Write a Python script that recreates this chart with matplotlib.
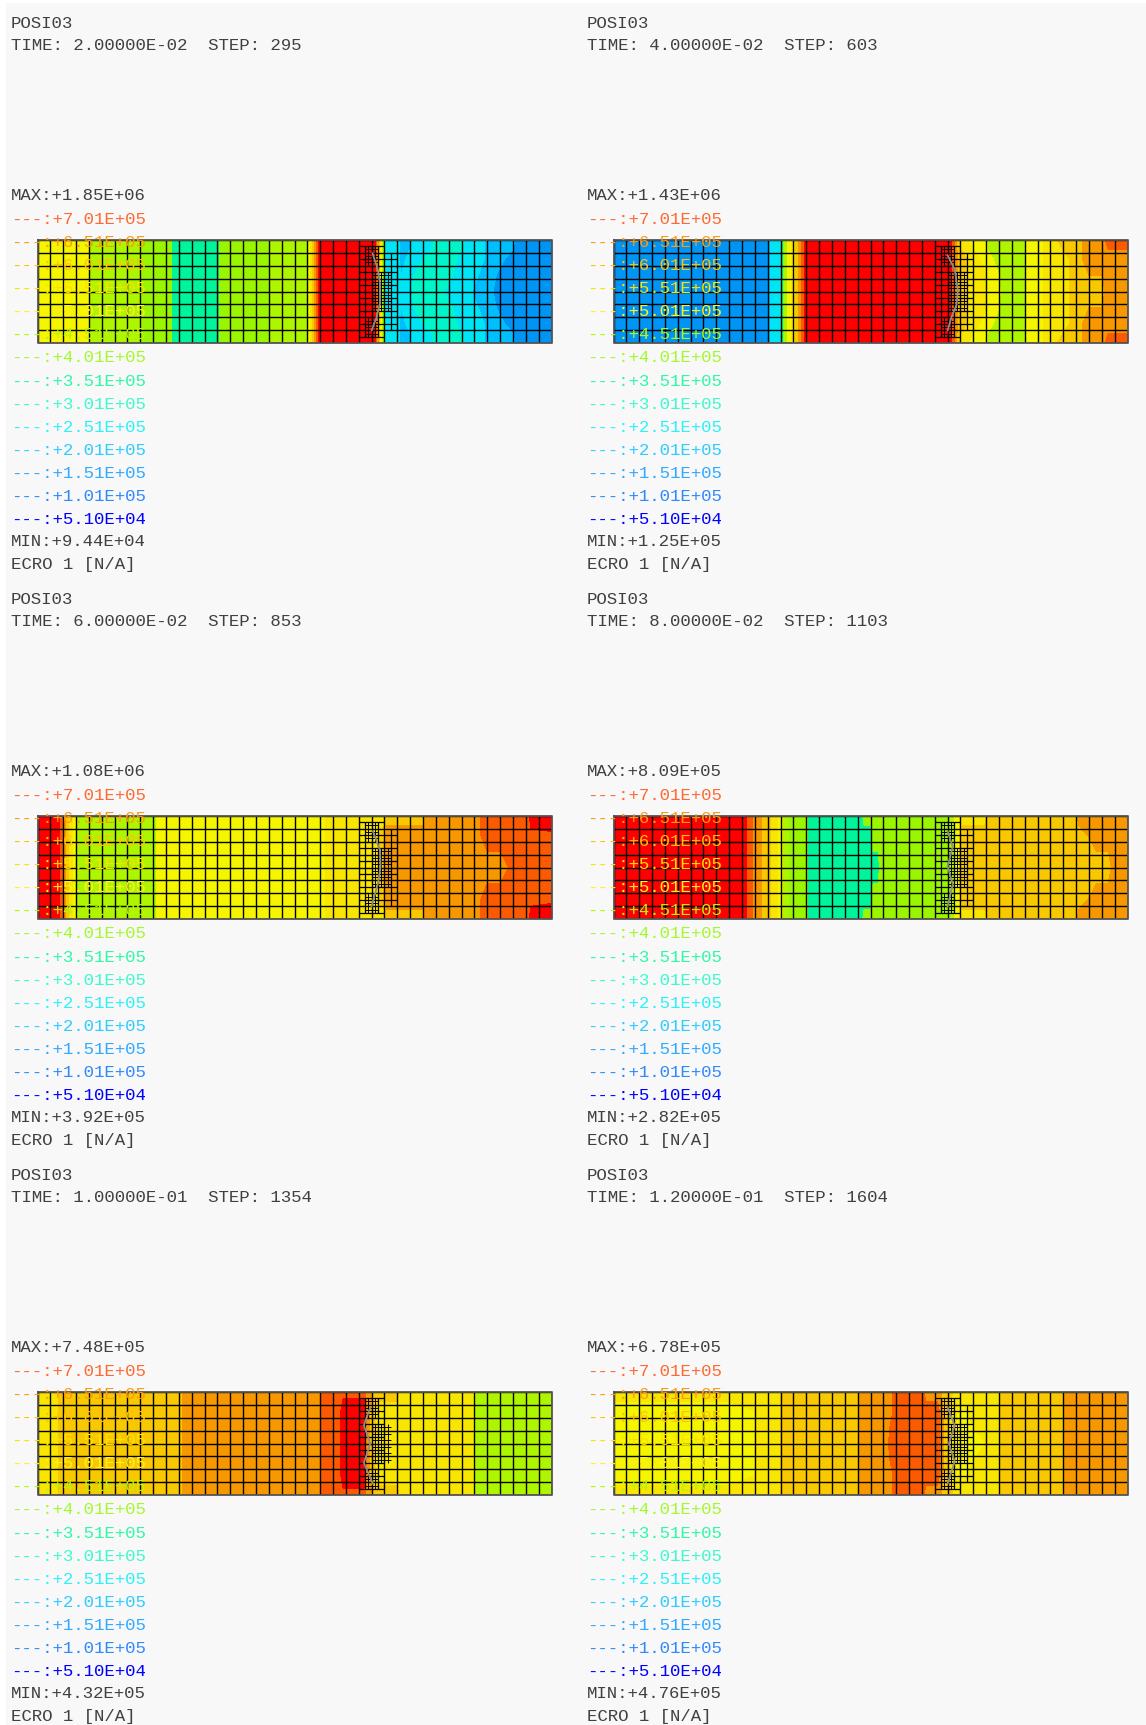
import matplotlib
matplotlib.use("Agg")
import matplotlib.pyplot as plt
from matplotlib.colors import BoundaryNorm, ListedColormap
import numpy as np

W, H = 1146, 1725

# panel header and range text
times = ["2.00000E-02", "4.00000E-02", "6.00000E-02", "8.00000E-02", "1.00000E-01", "1.20000E-01"]
steps = [295, 603, 853, 1103, 1354, 1604]
maxs = ["+1.85E+06", "+1.43E+06", "+1.08E+06", "+8.09E+05", "+7.48E+05", "+6.78E+05"]
mins = ["+9.44E+04", "+1.25E+05", "+3.92E+05", "+2.82E+05", "+4.32E+05", "+4.76E+05"]

# legend
level_labels = ["+7.01E+05", "+6.51E+05", "+6.01E+05", "+5.51E+05", "+5.01E+05", "+4.51E+05", "+4.01E+05",
                "+3.51E+05", "+3.01E+05", "+2.51E+05", "+2.01E+05", "+1.51E+05", "+1.01E+05", "+5.10E+04"]
level_colors = ["#ff6a33", "#ff9a10", "#ffc010", "#ffe000", "#fff020", "#b4f510", "#a4f830",
                "#30f8a8", "#40f8d0", "#30f0f8", "#30ccff", "#30aaff", "#3088ff", "#0000ff"]

# contour levels and fill colours, low to high
levels = [0, 51e3, 101e3, 151e3, 201e3, 251e3, 301e3, 351e3, 401e3, 451e3, 501e3, 551e3, 601e3, 651e3, 701e3, 2e6]
fills = ["#0000ff", "#0060ff", "#0095f5", "#00bfff", "#00e5f5", "#00f5c8", "#00f59b", "#99f500",
         "#aef500", "#f5f500", "#f8e600", "#f8c800", "#f89800", "#fc5a00", "#ff0000"]

# ECRO field in kN/A along the bar: stations in element units, values at edge, near edge and centre line
p1_x = [0, 4, 4.2, 8, 8.2, 10.4, 10.6, 14, 14.2, 18, 18.2, 21, 22, 26.3, 26.9,
        27.1, 28, 28.3, 29, 29.3, 30.7, 31, 32.3, 33, 33.3, 34.3, 35.2, 35.7, 37, 37.3, 39.7, 40]
p1_left = [476, 476, 426, 426, 376, 376, 326, 326, 376, 376, 426, 426, 750, 750, 376]
p1_edge = p1_left + [226, 226, 176, 176, 226, 226, 276, 276, 276, 226, 226, 176, 176, 176, 126, 126, 126]
p1_near = p1_left + [226, 226, 176, 226, 226, 276, 276, 276, 226, 226, 226, 176, 176, 126, 126, 126, 126]
p1_mid = p1_left + [226, 226, 226, 226, 276, 276, 276, 226, 226, 226, 176, 176, 126, 126, 126, 126, 95]

p2_x = [0, 12, 12.2, 13, 13.2, 13.5, 14, 14.5, 15, 26.2, 26.6,
        27, 28, 29, 29.1, 30, 30.2, 32, 32.2, 33, 34, 35, 36, 37, 38, 38.5, 40]
p2_left = [126, 126, 226, 226, 376, 450, 520, 620, 750, 750, 620]
p2_edge = p2_left + [526, 476, 476, 426, 426, 426, 426, 476, 476, 526, 576, 576, 626, 626, 676, 676]
p2_near = p2_left + [576, 526, 476, 476, 426, 426, 426, 476, 476, 526, 526, 576, 626, 626, 626, 626]
p2_mid = p2_left + [576, 526, 526, 476, 476, 426, 426, 476, 476, 526, 526, 576, 576, 576, 626, 626]

p3_x = [0, 1.5, 2, 2.5, 2.9, 3.1, 9.1, 9.3, 22.3, 22.5,
        25, 26, 27, 27.2, 28, 30, 30.2, 34, 35, 36, 37.3, 38.2, 38.4, 40]
p3_left = [750, 750, 640, 540, 476, 426, 426, 476, 476, 526]
p3_edge = p3_left + [526, 526, 526, 576, 576, 576, 626, 626, 676, 676, 676, 676, 750, 750]
p3_near = p3_left + [526, 526, 576, 626, 626, 626, 626, 626, 676, 676, 676, 676, 676, 690]
p3_mid = p3_left + [526, 526, 576, 626, 626, 626, 626, 626, 626, 626, 676, 676, 676, 676]

p4_x = [0, 10, 10.6, 11.1, 12, 13, 13.3, 14, 14.2, 15, 15.2,
        19.3, 19.5, 20, 20.2, 20.6, 20.8, 25, 25.8, 26.8, 27.2, 28, 28.9, 29.2, 36, 36.2, 37.6, 38.5, 39, 40]
p4_left = [750, 750, 676, 626, 576, 476, 426, 376, 376, 376, 326]
p4_edge = p4_left + [326, 376, 376, 376, 376, 376, 376, 376, 476, 526, 526, 526, 576, 576, 626, 626, 626, 626, 626]
p4_near = p4_left + [326, 326, 326, 376, 376, 376, 376, 376, 476, 576, 576, 576, 576, 576, 576, 626, 626, 626, 626]
p4_mid = p4_left + [326, 326, 326, 326, 326, 376, 376, 376, 476, 576, 576, 576, 576, 576, 576, 576, 576, 626, 626]

p5_x = [0, 1.5, 1.7, 11, 11.5, 22, 22.2, 23.5, 23.8, 25.4, 25.6, 26.5, 27, 28, 28.2, 33.8, 34, 40]
p5_left = [526, 526, 576, 576, 626, 626, 676]
p5_edge = p5_left + [676, 676, 676, 626, 576, 576, 576, 526, 526, 426, 426]
p5_near = p5_left + [676, 750, 750, 626, 526, 526, 526, 526, 526, 426, 426]
p5_mid = p5_left + [676, 750, 750, 626, 526, 526, 526, 526, 526, 426, 426]

p6_x = [0, 3, 9, 12.9, 13.1, 19, 19.2, 21.3, 21.5, 22, 24, 24.3, 25.2, 25.8, 27, 28, 30, 30.2, 35, 35.2, 40]
p6_edge = [526, 526, 526, 526, 576, 576, 626, 626, 626, 676, 676, 626, 626, 576, 526, 526, 526, 576, 576, 626, 626]
p6_near = [476, 476, 476, 526, 576, 576, 626, 626, 626, 676, 676, 676, 676, 576, 476, 526, 526, 576, 576, 626, 626]
p6_mid = [476, 476, 476, 526, 576, 576, 626, 626, 676, 676, 676, 676, 676, 576, 476, 476, 526, 576, 576, 626, 626]

stations = [p1_x, p2_x, p3_x, p4_x, p5_x, p6_x]
edges = [p1_edge, p2_edge, p3_edge, p4_edge, p5_edge, p6_edge]
nears = [p1_near, p2_near, p3_near, p4_near, p5_near, p6_near]
mids = [p1_mid, p2_mid, p3_mid, p4_mid, p5_mid, p6_mid]

# crack line, element units
crack_x = [[26.07, 26.5, 26.65, 26.65, 26.4, 26.0], [26.0, 26.55, 26.8, 26.7, 26.3, 26.0],
           [26.1, 26.65, 26.7, 26.5, 26.2, 26.0], [26.0, 26.4, 26.0, 26.4, 26.0],
           [25.9, 25.4, 25.9, 25.4, 26.1], [26.0, 26.55, 26.1, 26.55, 26.0]]
crack_y = [[1.05, 2.35, 3.4, 4.9, 5.95, 7.0], [1.2, 2.3, 3.9, 5.0, 6.0, 7.0],
           [1.2, 2.65, 3.9, 5.2, 6.25, 7.0], [1.2, 2.4, 3.9, 5.3, 7.0],
           [1.2, 2.6, 4.0, 5.5, 7.1], [1.2, 2.6, 4.0, 5.4, 7.1]]
has_ext = [True, True, True, True, False, True]

cmap = ListedColormap(fills)
norm = BoundaryNorm(levels, cmap.N)
fig = plt.figure(figsize=(W / 100, H / 100), dpi=100, facecolor="white")
fig.patches.append(plt.Rectangle((6 / W, 0), 1 - 6 / W, 1 - 3 / H, transform=fig.transFigure,
                                 fc="#f8f8f8", ec="none", zorder=-1))


def grid_lines(ax, xs, y0, y1, ys, x0, x1, lw=1.0):
    ax.vlines(xs, y0, y1, color="black", lw=lw, zorder=4)
    ax.hlines(ys, x0, x1, color="black", lw=lw, zorder=4)


for i in range(6):
    col, row = i % 2, i // 2
    dx, dy = col * 576, row * 576
    left, top = 37.5 + dx, 239.7 + dy
    ax = fig.add_axes([left / W, 1 - (top + 103.6) / H, 514 / W, 103.6 / H])
    ax.set_xlim(0, 40)
    ax.set_ylim(8, 0)
    ax.set_axis_off()

    e, n, m = edges[i], nears[i], mids[i]
    field = np.array([e, n, m, n, e]) * 1000.0
    ax.contourf(stations[i], [0, 1.5, 4, 6.5, 8], field, levels=levels, cmap=cmap, norm=norm, zorder=1)

    # coarse mesh
    grid_lines(ax, np.arange(41), 0, 8, np.arange(9), 0, 40)
    # refinement round the crack
    grid_lines(ax, [25.5, 26.5], 0.5, 7.5, np.arange(0.5, 8), 25, 27, lw=0.9)
    if has_ext[i]:
        grid_lines(ax, [27.5], 1, 7, np.arange(1.5, 7), 27, 28, lw=0.9)
    grid_lines(ax, np.arange(25.75, 26.6, 0.5), 0.5, 2, np.arange(0.75, 2, 0.5), 25.5, 26.5, lw=0.7)
    grid_lines(ax, np.arange(25.75, 26.6, 0.5), 6, 7.5, np.arange(6.25, 7.5, 0.5), 25.5, 26.5, lw=0.7)
    grid_lines(ax, np.arange(26.25, 27.5, 0.5), 2.5, 5.5, np.arange(2.75, 5.5, 0.5), 26, 27.5, lw=0.7)

    ax.plot(crack_x[i], crack_y[i], color="#8c8c8c", lw=1.3, zorder=5, clip_on=False)
    ax.plot([0, 40, 40, 0, 0], [0, 0, 8, 8, 0], color="#555555", lw=1.3, zorder=6, clip_on=False)

    # legend text sits on top of the mesh
    def put(y, s, c="#404040"):
        ax.text((11 + dx) / W, 1 - (y + 1 + dy) / H, s, color=c, transform=fig.transFigure, family="Liberation Mono",
                fontsize=12.47, va="center", ha="left", clip_on=False, zorder=7)

    put(22, "POSI03")
    put(45, "TIME: %s  STEP: %d" % (times[i], steps[i]))
    put(195, "MAX:" + maxs[i])
    for k, lab in enumerate(level_labels):
        put(218.5 + k * 23.08, "---:" + lab, level_colors[k])
    put(541, "MIN:" + mins[i])
    put(564, "ECRO 1 [N/A]")

fig.savefig("out.png", dpi=100, facecolor="white")
